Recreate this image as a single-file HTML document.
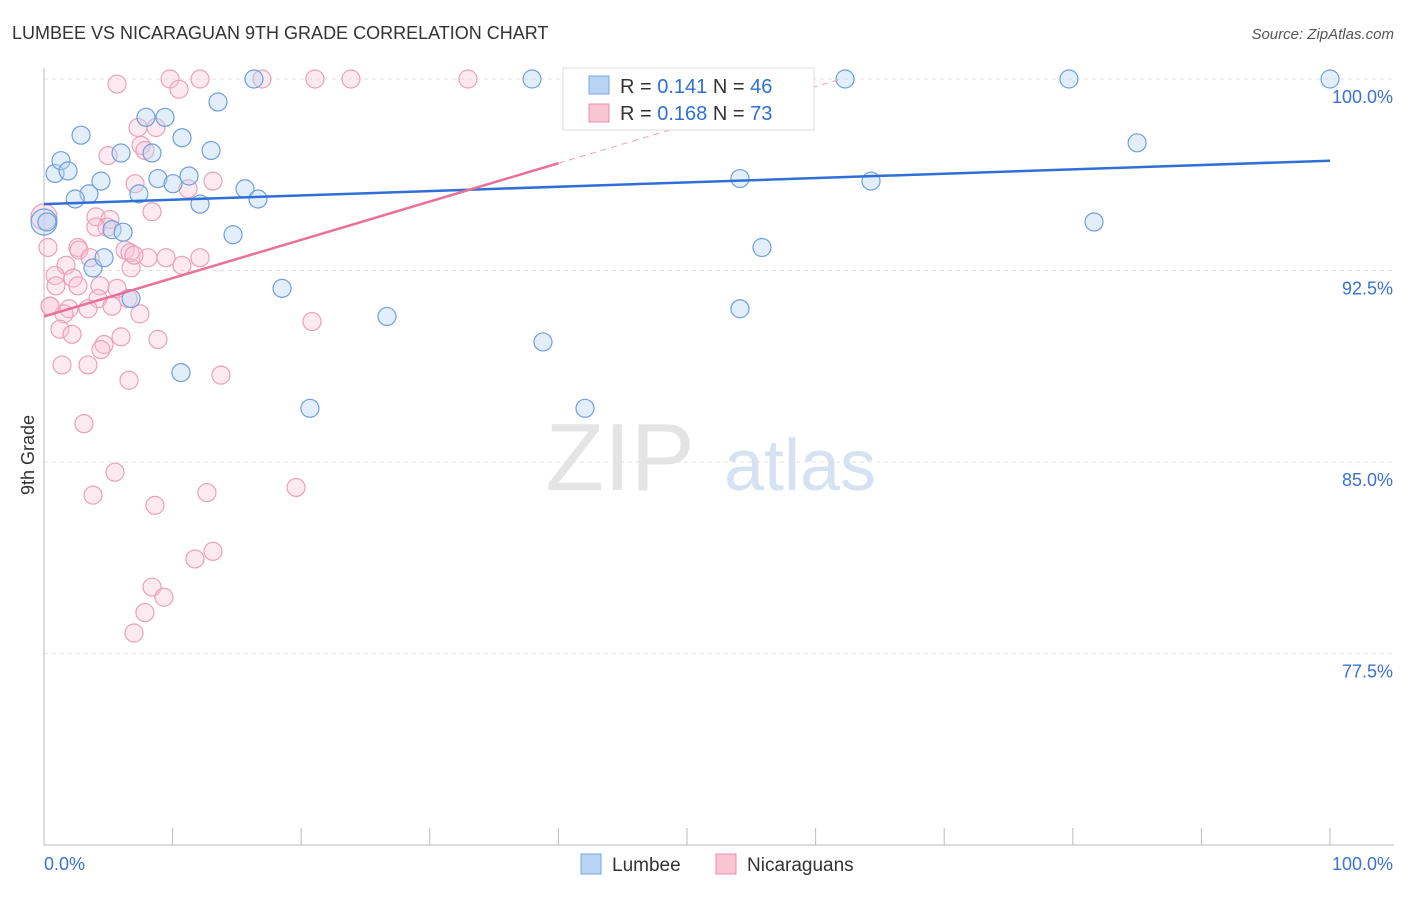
<!DOCTYPE html>
<html><head><meta charset="utf-8"><style>
body{margin:0;background:#fff;font-family:"Liberation Sans",sans-serif}
svg text{font-family:"Liberation Sans",sans-serif}
</style></head><body>
<svg id="c" width="1406" height="892">
<text x="12" y="39" font-size="18" fill="#333">LUMBEE VS NICARAGUAN 9TH GRADE CORRELATION CHART</text>
<text x="1394" y="39" font-size="15" fill="#555" text-anchor="end" font-style="italic">Source: ZipAtlas.com</text>
<text x="620" y="490" font-size="96" fill="#e4e4e4" font-family="Liberation Serif" text-anchor="middle">ZIP</text>
<text x="800" y="490" font-size="72" fill="#d6e2f2" text-anchor="middle">atlas</text>
<text transform="translate(34,455) rotate(-90)" font-size="18" fill="#333" text-anchor="middle">9th Grade</text>
<g id="grid"></g><g id="marks"></g>
<g>
<rect x="563" y="68" width="251" height="62" fill="#fff" stroke="#ddd"/>
<rect x="589" y="76" width="20" height="18" fill="#b8d4f5" stroke="#7aa6e0"/>
<text x="620" y="93" font-size="20" fill="#333">R = <tspan fill="#2f6fd6">0.141</tspan>   N = <tspan fill="#2f6fd6">46</tspan></text>
<rect x="589" y="104" width="20" height="18" fill="#f9c4d4" stroke="#e890ae"/>
<text x="620" y="120" font-size="20" fill="#333">R = <tspan fill="#2f6fd6">0.168</tspan>   N = <tspan fill="#2f6fd6">73</tspan></text>
</g>
<g>
<rect x="581" y="854" width="20" height="20" fill="#b8d4f5" stroke="#7aa6e0"/>
<text x="612" y="871" font-size="19" fill="#333">Lumbee</text>
<rect x="716" y="854" width="20" height="20" fill="#f9c4d4" stroke="#e890ae"/>
<text x="747" y="871" font-size="19" fill="#333">Nicaraguans</text>
</g>
</svg>
<script>
const yTicks=[100,92.5,85,77.5];
const yTickLabels=["100.0%","92.5%","85.0%","77.5%"];
const lumbeeX=[0.86,1.32,1.87,2.88,3.50,2.43,4.43,3.81,4.67,5.29,6.15,5.99,7.93,8.40,7.38,8.86,10.03,10.73,9.41,11.28,12.13,12.99,13.53,14.70,15.63,16.64,16.33,18.51,20.68,26.67,37.95,38.80,42.07,54.12,55.83,54.12,62.29,64.31,79.70,81.65,85.00,100,10.65,6.77,0,0.23];
const lumbeeY=[96.3,96.8,96.4,97.8,95.5,95.3,96.0,92.6,93.0,94.1,94.0,97.1,98.5,97.1,95.5,96.1,95.9,97.7,98.5,96.2,95.1,97.2,99.1,93.9,95.7,95.3,100,91.8,87.1,90.7,100,89.7,87.1,96.1,93.4,91.0,100,96.0,100,94.4,97.5,100,88.5,91.4,94.4,94.4];
const nicX=[5.68,9.80,10.50,12.13,16.95,21.07,23.87,32.97,7.31,8.71,7.54,4.98,7.85,7.08,11.20,13.14,8.40,4.04,5.13,4.90,6.30,6.69,8.09,9.49,12.13,10.73,2.64,2.72,3.58,1.71,0.86,2.26,0.93,2.64,4.35,5.68,4.20,6.53,5.29,3.42,1.94,0.47,1.56,7.46,1.24,2.18,5.99,4.67,4.43,8.86,1.40,3.42,6.61,13.76,20.84,3.11,5.52,3.81,8.63,12.67,19.60,13.14,11.74,8.40,9.33,7.85,7.00,0,0.31,0.47,6.77,7.00,4.04];
const nicY=[99.8,100,99.6,100,100,100,100,100,98.1,98.1,97.4,97.0,97.2,95.9,95.7,96.0,94.8,94.6,94.5,94.2,93.3,93.2,93.0,93.0,93.0,92.7,93.4,93.3,93.0,92.7,92.3,92.2,91.9,91.9,91.9,91.8,91.4,91.4,91.1,91.0,91.0,91.1,90.8,90.8,90.2,90.0,89.9,89.6,89.4,89.8,88.8,88.8,88.2,88.4,90.5,86.5,84.6,83.7,83.3,83.8,84.0,81.5,81.2,80.1,79.7,79.1,78.3,94.6,93.4,91.1,92.6,93.1,94.2];
const lumbeeTrend=[[0,95.1],[100,96.8]];
const nicTrend=[[0,90.7],[40,96.7],[62,100]];
const X=v=>44+v*12.86, Y=v=>79+(100-v)*25.53;
const NS="http://www.w3.org/2000/svg";
const g=document.getElementById('grid'), m=document.getElementById('marks');
function el(t,a,p){const e=document.createElementNS(NS,t);for(const k in a)e.setAttribute(k,a[k]);p.appendChild(e);return e;}
yTicks.forEach((t,i)=>{
 const l=el('line',{x1:44,x2:1394,y1:Y(t),y2:Y(t),stroke:'#e2e2e2','stroke-dasharray':'4,4'},g);
 
 
 const tx=el('text',{x:1393,y:Y(t)+24,'font-size':18,fill:'#3a72d0','text-anchor':'end'},g);
 tx.textContent=yTickLabels[i];
 
 
});
const ax=el('line',{x1:44,x2:1394,y1:845,y2:845,stroke:'#bbb'},g);


const ay=el('line',{x1:44,x2:44,y1:68,y2:845,stroke:'#bbb'},g);


for(let i=0;i<=10;i++){const t=el('line',{x1:X(i*10),x2:X(i*10),y1:828,y2:845,stroke:'#bbb'},g);
 
 }
const x0=el('text',{x:44,y:870,'font-size':18,fill:'#3a72d0'},g);x0.textContent='0.0%';


const x1=el('text',{x:1393,y:870,'font-size':18,fill:'#3a72d0','text-anchor':'end'},g);x1.textContent='100.0%';


nicX.forEach((x,i)=>{const r=(x===0)?13:9;const c=el('circle',{cx:X(x),cy:Y(nicY[i]),r:r,fill:'rgba(249,196,212,0.35)',stroke:'#eaa0ba','stroke-width':1.2},m);
 
 });
lumbeeX.forEach((x,i)=>{const r=(x===0)?13:9;const c=el('circle',{cx:X(x),cy:Y(lumbeeY[i]),r:r,fill:'rgba(184,212,245,0.4)',stroke:'#6f9fdc','stroke-width':1.2},m);
 
 });
const bl=el('line',{x1:X(lumbeeTrend[0][0]),y1:Y(lumbeeTrend[0][1]),x2:X(lumbeeTrend[1][0]),y2:Y(lumbeeTrend[1][1]),stroke:'#2f6fd6','stroke-width':2.5},m);


const pl=el('line',{x1:X(nicTrend[0][0]),y1:Y(nicTrend[0][1]),x2:X(nicTrend[1][0]),y2:Y(nicTrend[1][1]),stroke:'#e8709a','stroke-width':2.5},m);


const pd=el('line',{x1:X(nicTrend[1][0]),y1:Y(nicTrend[1][1]),x2:X(nicTrend[2][0]),y2:Y(nicTrend[2][1]),stroke:'#eaa0ba','stroke-width':1,'stroke-dasharray':'6,5'},m);


</script>
</body></html>
